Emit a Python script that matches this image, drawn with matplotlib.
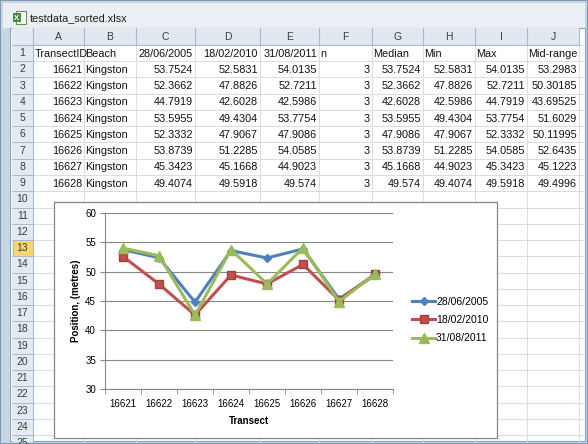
import numpy as np
import matplotlib
matplotlib.use("Agg")
import matplotlib.pyplot as plt
from matplotlib.patches import Rectangle

plt.rcParams.update({
    "font.family": ["Liberation Sans", "DejaVu Sans"],
})

# ----------------------------------------------------------
# Sheet data (testdata_sorted.xlsx)
# ----------------------------------------------------------
transect = [16621, 16622, 16623, 16624, 16625, 16626, 16627, 16628]
beach = ["Kingston"] * 8
survey_dates = ["28/06/2005", "18/02/2010", "31/08/2011"]
pos_2005 = [53.7524, 52.3662, 44.7919, 53.5955, 52.3332, 53.8739, 45.3423, 49.4074]
pos_2010 = [52.5831, 47.8826, 42.6028, 49.4304, 47.9067, 51.2285, 45.1668, 49.5918]
pos_2011 = [54.0135, 52.7211, 42.5986, 53.7754, 47.9086, 54.0585, 44.9023, 49.574]
n_obs = [3, 3, 3, 3, 3, 3, 3, 3]
median = [53.7524, 52.3662, 42.6028, 53.5955, 47.9086, 53.8739, 45.1668, 49.574]
p_min = [52.5831, 47.8826, 42.5986, 49.4304, 47.9067, 51.2285, 44.9023, 49.4074]
p_max = [54.0135, 52.7211, 44.7919, 53.7754, 52.3332, 54.0585, 45.3423, 49.5918]
mid_range = [53.2983, 50.30185, 43.69525, 51.6029, 50.11995, 52.6435, 45.1223, 49.4996]
header_row = ["TransectID", "Beach"] + survey_dates + ["n", "Median", "Min", "Max", "Mid-range"]
col_letters = list("ABCDEFGHIJ")

C_BLUE = "#4F81BD"
C_RED = "#C0504D"
C_GREEN = "#9BBB59"

# ----------------------------------------------------------
# Window / grid layout (pixel units)
# ----------------------------------------------------------
W, H = 588, 444
col_edges = [33, 84, 136, 195, 260, 319, 372, 423, 475, 527, 579]
row_h = 16.25
sheet_top = 45
n_rows = 25
selected_row = 13

fig = plt.figure(figsize=(W / 100, H / 100), dpi=100)
fig.patch.set_facecolor("#C9D6E6")
bg = fig.add_axes([0, 0, 1, 1])
bg.set_xlim(0, W)
bg.set_ylim(H, 0)
bg.axis("off")

# frame + title bar
bg.add_patch(Rectangle((0, 0), W, H, fc="#C9D6E6", ec="#7F96B5", lw=1.5))
bg.add_patch(Rectangle((3, 3), W - 6, 25, fc="#EBEFF4", ec="none"))
bg.add_patch(Rectangle((10, 28), 575, 413, fc="#FFFFFF", ec="#8DA2BE", lw=0.8))
# excel icon
bg.add_patch(Rectangle((16, 11), 10, 13, fc="#FFFFFF", ec="#6E8B5A", lw=0.8))
bg.add_patch(Rectangle((13, 13), 8, 9, fc="#3E8E3A", ec="none"))
bg.text(17, 18, "X", color="white", fontsize=5.5, fontweight="bold", ha="center", va="center")
bg.text(30, 18, "testdata_sorted.xlsx", fontsize=7.8, color="#1E1E1E", va="center")

# headers
bg.add_patch(Rectangle((12, 28), col_edges[-1] - 12, 17, fc="#E2E8F0", ec="none"))
bg.add_patch(Rectangle((12, 28), 21, 414, fc="#E4EAF2", ec="none"))
for i, ltr in enumerate(col_letters):
    x0, x1 = col_edges[i], col_edges[i + 1]
    bg.plot([x1, x1], [28, 45], color="#A9B8CC", lw=0.8)
    bg.text((x0 + x1) / 2, 36.5, ltr, fontsize=7.5, color="#3C3C3C", ha="center", va="center")
bg.plot([12, col_edges[-1]], [45, 45], color="#A9B8CC", lw=0.8)
bg.plot([33, 33], [28, 442], color="#A9B8CC", lw=0.8)

# cell grid
for r in range(n_rows + 1):
    y = sheet_top + r * row_h
    bg.plot([12, col_edges[-1] + 4], [y, y], color="#D6DDE7", lw=0.7, zorder=1)
for x in col_edges[1:]:
    bg.plot([x, x], [45, 442], color="#D6DDE7", lw=0.7, zorder=1)
for r in range(1, n_rows + 1):
    y0 = sheet_top + (r - 1) * row_h
    if r == selected_row:
        bg.add_patch(Rectangle((12.5, y0), 20.5, row_h, fc="#F8D571", ec="#E2B43C", lw=0.6))
    bg.plot([12, 33], [y0 + row_h, y0 + row_h], color="#A9B8CC", lw=0.7)
    t = bg.text(22.5, y0 + row_h / 2, str(r), fontsize=7.5, color="#3C3C3C", ha="center", va="center")
    t.set_clip_path(Rectangle((12, 28), 21, 413, transform=bg.transData))


def cell(col, row, txt, right):
    x0, x1 = col_edges[col], col_edges[col + 1]
    yc = sheet_top + (row - 1) * row_h + row_h / 2 + 0.5
    if right:
        t = bg.text(x1 - 2, yc, txt, fontsize=7.8, ha="right", va="center", color="#111111")
    else:
        t = bg.text(x0 + 1.5, yc, txt, fontsize=7.8, ha="left", va="center", color="#111111")
    clip = Rectangle((x0, yc - 8), x1 - x0, 16, transform=bg.transData)
    t.set_clip_path(clip)


for j, h in enumerate(header_row):
    cell(j, 1, h, right=h in survey_dates)

columns = [transect, beach, pos_2005, pos_2010, pos_2011, n_obs, median, p_min, p_max, mid_range]
for j, vals in enumerate(columns):
    for i, v in enumerate(vals):
        cell(j, i + 2, str(v), right=not isinstance(v, str))

# ----------------------------------------------------------
# Embedded chart
# ----------------------------------------------------------
bg.add_patch(Rectangle((54, 202), 443, 236, fc="white", ec="#868686", lw=0.9, zorder=5))

ax = fig.add_axes([105 / W, 1 - 389 / H, 288 / W, 176 / H])
ax.set_facecolor("none")
x = np.arange(len(transect))
ax.plot(x, pos_2005, color=C_BLUE, lw=2.2, marker="D", ms=4, label=survey_dates[0], zorder=3)
ax.plot(x, pos_2010, color=C_RED, lw=2.2, marker="s", ms=5.5, mec="#A5403D", label=survey_dates[1], zorder=3)
ax.plot(x, pos_2011, color=C_GREEN, lw=2.2, marker="^", ms=6.5, label=survey_dates[2], zorder=4)

ax.set_xlim(-0.5, len(transect) - 0.5)
ax.set_ylim(30, 60)
ax.set_yticks(np.arange(30, 61, 5))
ax.set_xticks(x)
ax.set_xticklabels([str(t) for t in transect])
ax.set_xticks(np.arange(-0.5, len(transect)), minor=True)
ax.tick_params(axis="x", which="major", length=0, pad=7, labelsize=7)
ax.tick_params(axis="x", which="minor", length=3.5, color="#868686")
ax.tick_params(axis="y", length=3.5, color="#868686", labelsize=7, pad=3)
ax.grid(axis="y", color="#868686", lw=0.8)
ax.set_axisbelow(True)
for s in ["top", "right"]:
    ax.spines[s].set_visible(False)
for s in ["left", "bottom"]:
    ax.spines[s].set_color("#868686")
    ax.spines[s].set_linewidth(0.8)
ax.set_xlabel("Transect", fontsize=7, fontweight="bold", labelpad=5)
ax.set_ylabel("Position, (metres)", fontsize=7, fontweight="bold", labelpad=3)

handles, labels = ax.get_legend_handles_labels()
fig.legend(handles, labels, loc="center left", bbox_to_anchor=(408 / W, 1 - 320 / H),
           frameon=False, fontsize=7.5, handlelength=2.2, handletextpad=0.1,
           labelspacing=0.8, borderaxespad=0)

fig.savefig("out.png", dpi=100)
